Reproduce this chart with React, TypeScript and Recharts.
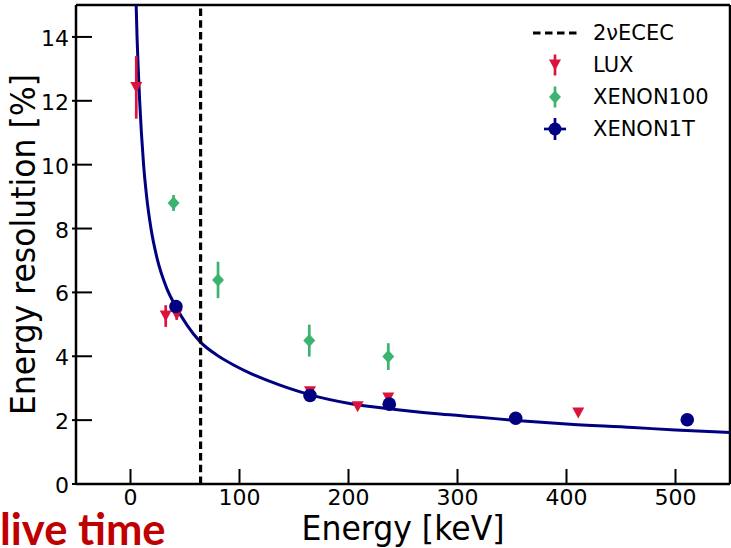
import React from "react";
import {
  ComposedChart,
  Line,
  Scatter,
  XAxis,
  YAxis,
  ErrorBar,
  ReferenceLine,
  Legend
} from "recharts";

const xTicks = [0, 100, 200, 300, 400, 500];
const yTicks = [0, 2, 4, 6, 8, 10, 12, 14];
const ececEnergy = 64.3;

// fitted resolution curve
const fitCurve = [
  { x: 5.2, y: 15 },
  { x: 6.0, y: 14 },
  { x: 7.1, y: 13 },
  { x: 8.4, y: 12 },
  { x: 10.0, y: 11 },
  { x: 12.0, y: 10 },
  { x: 14.8, y: 9 },
  { x: 18.8, y: 8 },
  { x: 24.5, y: 7.05 },
  { x: 33, y: 6.15 },
  { x: 41.5, y: 5.56 },
  { x: 52, y: 4.97 },
  { x: 64, y: 4.45 },
  { x: 80, y: 4.02 },
  { x: 95, y: 3.72 },
  { x: 111, y: 3.45 },
  { x: 125, y: 3.25 },
  { x: 145, y: 3.0 },
  { x: 165, y: 2.79 },
  { x: 201, y: 2.52 },
  { x: 247, y: 2.32 },
  { x: 284, y: 2.19 },
  { x: 320, y: 2.09 },
  { x: 354, y: 1.99 },
  { x: 400, y: 1.88 },
  { x: 461, y: 1.77 },
  { x: 500, y: 1.69 },
  { x: 550, y: 1.61 }
];

const luxPoints = [
  { x: 5.3, y: 12.42, err: 0.98 },
  { x: 32.3, y: 5.26, err: 0.34 },
  { x: 42.4, y: 5.3, err: 0.16 },
  { x: 164.7, y: 2.89, err: 0.06 },
  { x: 208.4, y: 2.42, err: 0.1 },
  { x: 236.5, y: 2.69, err: 0.06 },
  { x: 410.8, y: 2.22, err: 0.08 }
];

const xenon100Points = [
  { x: 39.5, y: 8.8, err: 0.25 },
  { x: 80.3, y: 6.39, err: 0.57 },
  { x: 164.0, y: 4.49, err: 0.5 },
  { x: 236.5, y: 3.99, err: 0.42 }
];

const xenon1tPoints = [
  { x: 41.7, y: 5.56, err: 0.05 },
  { x: 164.7, y: 2.77, err: 0.05 },
  { x: 237.4, y: 2.5, err: 0.05 },
  { x: 353.4, y: 2.06, err: 0.04 },
  { x: 510.8, y: 2.01, err: 0.04 }
];

const legendLabels = ["2\u03bdECEC", "LUX", "XENON100", "XENON1T"];

const FONT = '"DejaVu Sans", sans-serif';
const RED = "#dc143c";
const GREEN = "#3cb371";
const NAVY = "#000080";

function XTick({ x, y, payload }: any) {
  return (
    <g>
      <line x1={x} x2={x} y1={y} y2={y - 15} stroke="#000" strokeWidth={2} />
      <text x={x} y={y + 21} textAnchor="middle" fontSize={22} fontFamily={FONT} fill="#000">
        {payload.value}
      </text>
    </g>
  );
}

function YTick({ x, y, payload }: any) {
  return (
    <g>
      <line x1={x - 4} x2={x + 16} y1={y} y2={y} stroke="#000" strokeWidth={2} />
      <text x={x - 7} y={y + 9} textAnchor="end" fontSize={22} fontFamily={FONT} fill="#000">
        {payload.value}
      </text>
    </g>
  );
}

const triangle = (cx: number, cy: number, color: string) => (
  <path d={`M${cx - 6},${cy - 5.5}L${cx + 6},${cy - 5.5}L${cx},${cy + 5.5}Z`} fill={color} />
);
const diamond = (cx: number, cy: number, color: string) => (
  <path d={`M${cx},${cy - 6.5}L${cx + 6},${cy}L${cx},${cy + 6.5}L${cx - 6},${cy}Z`} fill={color} />
);

const LuxShape = (p: any) => triangle(p.cx, p.cy, RED);
const X100Shape = (p: any) => diamond(p.cx, p.cy, GREEN);
const X1tShape = (p: any) => <circle cx={p.cx} cy={p.cy} r={6.8} fill={NAVY} />;

function LegendBox() {
  const icons = [
    <line key="d" x1={3} x2={47} y1={16} y2={16} stroke="#000" strokeWidth={3} strokeDasharray="7.5 4.5" />,
    <g key="l">
      <line x1={25} x2={25} y1={5.5} y2={26.5} stroke={RED} strokeWidth={2.7} />
      {triangle(25, 16, RED)}
    </g>,
    <g key="g">
      <line x1={25} x2={25} y1={5.5} y2={26.5} stroke={GREEN} strokeWidth={2.7} />
      {diamond(25, 16, GREEN)}
    </g>,
    <g key="n">
      <line x1={25} x2={25} y1={5} y2={27} stroke={NAVY} strokeWidth={2.7} />
      <line x1={14} x2={36} y1={16} y2={16} stroke={NAVY} strokeWidth={2.7} />
      <circle cx={25} cy={16} r={6.5} fill={NAVY} />
    </g>
  ];
  return (
    <div style={{ fontFamily: FONT, fontSize: 21, color: "#000" }}>
      {legendLabels.map((label, i) => (
        <div key={label} style={{ display: "flex", alignItems: "center", height: 32 }}>
          <svg width={50} height={32} style={{ display: "block" }}>
            {icons[i]}
          </svg>
          <span style={{ marginLeft: 13, lineHeight: "32px" }}>{label}</span>
        </div>
      ))}
    </div>
  );
}

const renderXTitle = () => (
  <g>
    <text
      x={403}
      y={540}
      textAnchor="middle"
      fontSize={33}
      fontFamily={FONT}
      fill="#000"
      textLength={203}
      lengthAdjust="spacingAndGlyphs"
    >
      Energy [keV]
    </text>
    <text x={0} y={545} fontSize={43.5} fontWeight={700} fontFamily="Lato, sans-serif" fill="#c00000">
      live time
    </text>
  </g>
);

const renderYTitle = () => (
  <text
    transform="translate(35,244.5) rotate(-90)"
    textAnchor="middle"
    fontSize={33}
    fontFamily={FONT}
    fill="#000"
    textLength={341}
    lengthAdjust="spacingAndGlyphs"
  >
    Energy resolution [%]
  </text>
);

export default function App() {
  return (
    <div style={{ position: "absolute", left: 0, top: 0, width: 731, height: 548, background: "#fff", overflow: "hidden" }}>
      <ComposedChart width={731} height={548} margin={{ top: 5, right: 1, bottom: 0, left: 0 }}>
        <XAxis
          type="number"
          dataKey="x"
          domain={[-50, 550]}
          ticks={xTicks}
          allowDataOverflow
          height={64}
          tickSize={0}
          tickMargin={0}
          tickLine={false}
          tick={<XTick />}
          axisLine={{ stroke: "#000", strokeWidth: 2.5 }}
          label={renderXTitle}
        />
        <YAxis
          type="number"
          dataKey="y"
          domain={[0, 15]}
          ticks={yTicks}
          allowDataOverflow
          width={76}
          tickSize={0}
          tickMargin={0}
          tickLine={false}
          tick={<YTick />}
          axisLine={{ stroke: "#000", strokeWidth: 2.5 }}
          label={renderYTitle}
        />
        <ReferenceLine y={15} stroke="#000" strokeWidth={2.5} />
        <ReferenceLine x={550} stroke="#000" strokeWidth={2.5} />
        <Line
          data={fitCurve}
          dataKey="y"
          type="monotone"
          stroke={NAVY}
          strokeWidth={3}
          dot={false}
          activeDot={false}
          legendType="none"
          isAnimationActive={false}
        />
        <ReferenceLine x={ececEnergy} stroke="#000" strokeWidth={3.2} strokeDasharray="7.5 4.2" />
        <Scatter data={luxPoints} dataKey="y" shape={LuxShape} isAnimationActive={false}>
          <ErrorBar dataKey="err" direction="y" width={0} stroke={RED} strokeWidth={2.7} />
        </Scatter>
        <Scatter data={xenon100Points} dataKey="y" shape={X100Shape} isAnimationActive={false}>
          <ErrorBar dataKey="err" direction="y" width={0} stroke={GREEN} strokeWidth={2.7} />
        </Scatter>
        <Scatter data={xenon1tPoints} dataKey="y" shape={X1tShape} isAnimationActive={false}>
          <ErrorBar dataKey="err" direction="y" width={0} stroke={NAVY} strokeWidth={2.7} />
        </Scatter>
        <Legend
          content={<LegendBox />}
          layout="vertical"
          align="center"
          verticalAlign="middle"
          wrapperStyle={{ left: 530, top: 17, width: 200 }}
        />
      </ComposedChart>
    </div>
  );
}
